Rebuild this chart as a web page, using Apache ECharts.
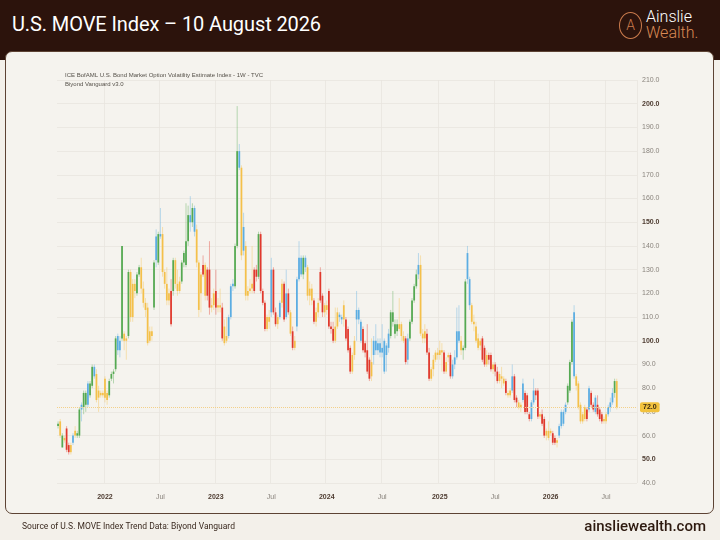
<!DOCTYPE html>
<html lang="en">
<head>
<meta charset="UTF-8">
<title>U.S. MOVE Index</title>
<script src="https://cdn.jsdelivr.net/npm/echarts@6/dist/echarts.min.js"></script>
<style>
    html, body { margin: 0; padding: 0; }
    body {
        width: 720px; height: 540px; position: relative; overflow: hidden;
        background: #f3f0ea; font-family: Roboto, "Noto Sans", Arial, sans-serif;
    }
    .header { position: absolute; left: 0; top: 0; width: 720px; height: 60px; background: #2c130c; }
    .title { position: absolute; left: 12px; top: 12px; color: #ffffff; font-size: 20px; letter-spacing: -0.1px; }
    .ring {
        position: absolute; left: 619px; top: 12px; width: 21px; height: 25px;
        border: 1.3px solid #c97a4c; border-radius: 50%;
        color: #c97a4c; font-size: 14px; font-weight: 300; text-align: center; line-height: 25px;
    }
    .words { position: absolute; left: 646px; top: 9px; font-size: 16px; line-height: 16px; font-weight: 300; }
    .words .w1 { color: #ffffff; }
    .words .w2 { color: #d98a55; }
    .panel {
        position: absolute; left: 5px; top: 51px; width: 707px; height: 461px;
        background: #f5f3ee; border: 1.5px solid #5d4334; border-radius: 7px;
    }
    #chart { position: absolute; left: 0; top: 0; width: 720px; height: 540px; }
    .src { position: absolute; left: 22px; top: 521px; font-size: 8.5px; color: #3b2a20; }
    .site { position: absolute; right: 14px; top: 517px; font-size: 15px; color: #2e1a10; font-weight: 500; }
</style>
</head>
<body>
    <div class="header">
        <div class="title">U.S. MOVE Index – 10 August 2026</div>
        <div class="ring">A</div>
        <div class="words"><div class="w1">Ainslie</div><div class="w2">Wealth.</div></div>
    </div>
    <div class="panel"></div>
    <div id="chart"></div>
    <div class="src">Source of U.S. MOVE Index Trend Data: Biyond Vanguard</div>
    <div class="site">ainsliewealth.com</div>

<script>
    // weekly candles [open, close, low, high], one block per calendar year
    var wk2021 = [
        [64,65,63,66],[66,60,59,67],[60,55,55,61],[58,59,57,60],[63,54,53,64],[56,53,52,57],
        [53,56,52,57],[57,60,56,61],[60,62,59,64],[60,61,59,62],[60,71,59,72],[71,73,66,74],
        [72,78,69,79],[78,73,70,79],[73,82,72,83],[77,82,76,83],[81,89,80,90],[89,85,84,90],
        [86,75,74,88],[79,76,70,81],[78,77,76,79],[77,78,76,79]
    ];
    var wk2022 = [
        [76,84,74,85],[78,75,73,79],[77,83,76,84],[84,86,83,87],[86,87,82,88],[88,101,87,102],
        [102,96,94,103],[96,100,93,102],[101,140,100,140],[103,100,96,104],[100,101,92,102],[102,129,101,130],
        [129,110,108,130],[110,124,108,126],[124,121,118,126],[120,128,119,129],[128,131,127,132],[131,122,120,135],
        [122,116,114,125],[116,113,110,118],[114,99,98,116],[100,104,99,106],[104,102,100,106],[114,133,113,134],
        [134,144,131,147],[133,145,132,146],[145,144,143,156],[145,129,127,148],[129,124,122,130],[124,117,115,131],
        [117,120,115,122],[121,107,106,126],[121,134,119,135],[134,124,122,135],[124,121,119,130],[121,125,120,127],
        [125,133,124,134],[133,137,131,138],[132,142,131,158],[142,153,140,157],[153,150,146,161],[150,156,148,158],
        [156,146,144,157],[147,133,131,149],[133,113,110,134],[120,128,112,129],[128,132,127,136],[132,119,117,133],
        [119,130,117,131],[130,114,111,142],[114,115,112,118],[115,120,113,122]
    ];
    var wk2023 = [
        [121,114,111,130],[114,115,112,118],[115,114,112,122],[114,101,100,116],[106,99,98,109],[100,102,99,110],
        [102,110,101,111],[110,123,109,124],[123,124,121,126],[123,140,122,141],[140,180,139,199],[180,173,172,183],
        [173,136,134,174],[138,148,136,154],[140,119,117,142],[119,121,117,123],[121,122,120,126],[122,124,120,140],
        [121,130,120,131],[130,127,125,132],[127,145,126,146],[145,121,120,146],[121,116,115,122],[116,105,104,117],
        [105,110,104,111],[110,108,105,113],[112,130,110,135],[130,112,111,131],[112,107,106,114],[107,110,105,111],
        [110,116,109,117],[116,124,114,126],[124,109,108,125],[110,120,109,130],[120,112,111,122],[112,103,102,113],
        [104,97,96,106],[97,100,96,102],[106,126,104,127],[126,135,125,142],[135,128,127,136],[128,135,126,136],
        [135,131,129,136],[131,119,117,132],[119,122,115,125],[122,117,115,124],[117,108,107,118],[108,112,106,114],
        [112,116,110,118],[117,129,116,131],[119,112,110,120],[112,115,110,116]
    ];
    var wk2024 = [
        [115,113,111,117],[121,106,105,122],[106,105,103,108],[105,100,99,108],[100,106,99,114],[106,112,105,114],
        [111,110,108,112],[110,109,107,111],[109,115,106,117],[109,101,100,110],[105,96,95,106],[97,87,86,98],
        [87,94,86,95],[94,100,92,102],[109,113,100,121],[113,109,107,114],[108,100,99,109],[105,96,95,106],
        [99,95,93,100],[96,87,86,107],[92,84,83,93],[85,91,83,101],[94,100,90,102],[100,96,94,107],
        [96,99,94,101],[99,95,93,101],[95,97,93,107],[100,87,86,101],[94,98,87,99],[97,103,95,105],
        [102,112,101,113],[112,108,106,121],[107,103,101,109],[104,107,102,109],[107,105,104,118],[107,102,100,108],
        [102,100,99,104],[101,91,90,102],[92,101,90,103],[101,108,100,109],[108,117,107,118],[117,123,116,124],
        [123,128,122,130],[128,132,126,137],[132,103,102,136],[103,101,99,105],[101,104,99,107],[103,95,94,105],
        [95,84,83,97],[84,88,83,89],[88,92,85,94],[92,95,91,96],[95,94,92,97]
    ];
    var wk2025 = [
        [94,96,92,100],[96,95,87,99],[95,87,86,96],[87,91,86,93],[93,94,91,95],[94,85,84,95],
        [85,90,84,92],[90,93,88,96],[93,104,92,114],[104,100,99,115],[100,96,94,102],[96,97,92,98],
        [97,125,96,126],[126,137,124,140],[126,115,113,127],[115,108,107,116],[108,107,104,111],[106,100,99,108],
        [101,97,96,103],[98,100,96,101],[101,92,91,102],[97,90,89,98],[90,94,89,96],[94,92,90,95],
        [94,88,87,95],[88,90,86,91],[90,87,85,91],[87,83,82,89],[83,86,82,87],[85,84,80,89],
        [84,82,81,85],[83,78,77,84],[78,77,76,79],[77,79,76,80],[79,85,78,90],[85,75,74,86],
        [76,74,72,77],[74,72,71,75],[72,73,70,74],[75,82,74,84],[78,70,69,79],[77,70,69,78],
        [69,67,66,70],[67,74,66,75],[74,79,73,84],[79,77,75,80],[79,68,67,80],[69,68,67,70],
        [69,65,64,71],[67,60,59,68],[60,62,58,63],[59,62,58,66]
    ];
    var wk2026 = [
        [62,61,60,63],[61,57,56,62],[59,57,56,60],[57,58,55,59],[60,64,59,65],[64,70,63,71],
        [70,65,64,71],[70,73,69,74],[74,81,73,82],[79,91,78,92],[91,108,90,109],[112,85,84,115],
        [85,81,79,86],[82,72,71,83],[73,66,65,74],[66,69,65,70],[67,72,66,73],[71,67,66,72],
        [71,80,70,81],[78,73,72,79],[73,71,70,74],[70,76,69,77],[73,69,68,77],[71,67,66,72],
        [69,66,65,70],[67,66,65,68],[66,69,65,70],[69,72,68,73],[72,74,70,76],[74,78,73,80],
        [78,83,76,84],[83,72,71,84]
    ];

    // Vanguard trend state per week: G green, B blue, Y yellow, R red
    var trend2021 = 'GYGYRRYBYGGBGGBGGBYYYY';
    var trend2022 = 'YYGGGGBBGYYGYYYGGYYYYYYGBGBYYYYRGYYYGGGGBGBYYYRYRRYY';
    var trend2023 = 'RYYRYYBBBGGBYBYYYYRRGRRRYYBRRYBYRBRYRYBBBGBYYYRYYRRY';
    var trend2024 = 'YRRRYYBBYRRRYYBBBRRRRYBBBBBBBBGGGGYYYRBGGGGBYYYRRYYYY';
    var trend2025 = 'YYRYYRBBBBYGGBBYYYYYRRYRRYRRYYYRYYBRRYYBRRRBBRRYRRYY';
    var trend2026 = 'YRRYBBBBGGGBYYYYYRBRRBRRRYYBBBGY';

    var trendKeys = 'GBYR';
    var trendPalette = ['#55a952', '#5bade2', '#f4c04a', '#e0392d'];

    var firstWeek = Date.UTC(2021, 7, 2);
    var totalWeeks = 272;   // includes empty weeks to the right of the last bar

    var weeks = [];
    for (var w = 0; w < totalWeeks; w++) {
        weeks.push(new Date(firstWeek + w * 7 * 86400000).toISOString().slice(0, 10));
    }

    var candles = [];
    [[wk2021, trend2021], [wk2022, trend2022], [wk2023, trend2023],
     [wk2024, trend2024], [wk2025, trend2025], [wk2026, trend2026]].forEach(function (b) {
        b[0].forEach(function (q, k) {
            candles.push([candles.length, q[0], q[1], q[2], q[3], trendKeys.indexOf(b[1][k])]);
        });
    });
    var closes = candles.map(function (c) { return c[2]; });
    var lastClose = closes[closes.length - 1];

    function isLabelWeek(idx, value) {
        var d = new Date(value + 'T00:00:00Z');
        return d.getUTCDate() <= 7 && (d.getUTCMonth() === 0 || d.getUTCMonth() === 6);
    }

    function renderCandle(params, api) {
        var x = api.value(0);
        var o = api.value(1), c = api.value(2);
        var top = api.coord([x, Math.max(o, c)]);
        var bot = api.coord([x, Math.min(o, c)]);
        var lo = api.coord([x, api.value(3)]);
        var hi = api.coord([x, api.value(4)]);
        var w = api.size([1, 0])[0] * 0.82;
        var col = trendPalette[api.value(5)];
        return {
            type: 'group',
            children: [
                { type: 'line', shape: { x1: hi[0], y1: hi[1], x2: lo[0], y2: lo[1] },
                  style: { stroke: col, lineWidth: 1, opacity: 0.4 } },
                { type: 'rect', shape: { x: top[0] - w / 2, y: top[1], width: w, height: Math.max(bot[1] - top[1], 1) },
                  style: { fill: col } }
            ]
        };
    }

    var myChart = echarts.init(document.getElementById('chart'));
    myChart.setOption({
        animation: false,
        title: {
            text: 'ICE BofAML U.S. Bond Market Option Volatility Estimate Index - 1W - TVC',
            subtext: 'Biyond Vanguard v3.0',
            left: 60, top: 67, itemGap: 3,
            textStyle: { fontSize: 6, fontWeight: 'normal', color: '#555049' },
            subtextStyle: { fontSize: 6, color: '#555049' }
        },
        grid: { left: 57, right: 83, top: 80, bottom: 57 },
        xAxis: {
            type: 'category',
            data: weeks,
            boundaryGap: true,
            axisLine: { show: false },
            axisTick: { show: false },
            axisLabel: {
                interval: isLabelWeek,
                margin: 11,
                fontSize: 7,
                color: '#8a847d',
                formatter: function (value) {
                    var d = new Date(value + 'T00:00:00Z');
                    return d.getUTCMonth() === 0 ? '{y|' + d.getUTCFullYear() + '}' : 'Jul';
                },
                rich: { y: { fontSize: 7, fontWeight: 'bold', color: '#4d3b30' } }
            },
            splitLine: { show: true, interval: isLabelWeek, lineStyle: { color: '#e8e5de', width: 0.8 } }
        },
        yAxis: {
            type: 'value',
            position: 'right',
            min: 40, max: 210, interval: 10,
            axisLine: { show: false },
            axisTick: { show: false },
            axisLabel: {
                margin: 5,
                fontSize: 7,
                color: '#8a847d',
                formatter: function (v) {
                    var s = v.toFixed(1);
                    return (v % 50 === 0 && v > 40) ? '{b|' + s + '}' : s;
                },
                rich: { b: { fontSize: 7, fontWeight: 'bold', color: '#4d3b30' } }
            },
            splitLine: { lineStyle: { color: '#e8e5de', width: 0.8 } }
        },
        series: [
            {
                type: 'custom',
                renderItem: renderCandle,
                encode: { x: 0, y: [1, 2, 3, 4] },
                data: candles,
                silent: true
            },
            {
                type: 'line',
                data: closes,
                showSymbol: false,
                silent: true,
                lineStyle: { opacity: 0 },
                markLine: {
                    symbol: 'none',
                    silent: true,
                    lineStyle: { type: 'dotted', color: '#f3d08a', width: 1 },
                    label: {
                        position: 'end',
                        distance: 3,
                        formatter: lastClose.toFixed(1),
                        backgroundColor: '#f2c23e',
                        color: '#3b2b12',
                        fontSize: 7,
                        fontWeight: 'bold',
                        padding: [2, 3, 1, 3],
                        borderRadius: 2
                    },
                    data: [{ yAxis: lastClose }]
                }
            }
        ]
    });
</script>
</body>
</html>
